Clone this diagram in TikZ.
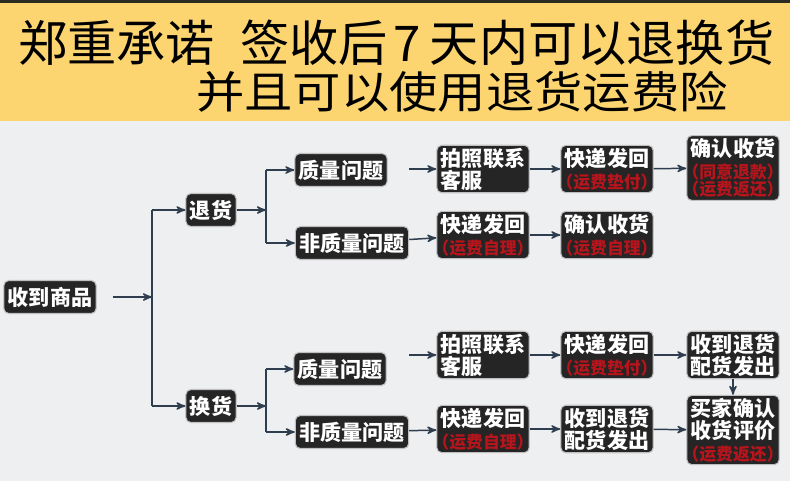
\documentclass[tikz,border=0pt]{standalone}
\usepackage{fontspec}
\usepackage{xcolor}
\usetikzlibrary{arrows}
\newfontfamily\cjk{Noto Sans CJK SC}
\newfontfamily\cjkwide[FakeStretch=1.1]{Noto Sans CJK SC}
\definecolor{pagebg}{HTML}{EEEFF1}
\definecolor{banner}{HTML}{FCD571}
\definecolor{bannertop}{HTML}{2B2B22}
\definecolor{boxfill}{HTML}{252525}
\definecolor{boxrim}{HTML}{BFBFBF}
\definecolor{feered}{HTML}{B8141C}
\definecolor{arrowc}{HTML}{2F3E4E}
\newcommand{\fee}[1]{{\color{feered}\fontsize{9.6}{10}\selectfont\makebox[5em]{#1}}}

\begin{document}
\begin{tikzpicture}[x=0.02cm,y=-0.02cm]

    \tikzset{box/.style = {rounded corners=0.1cm,fill=boxfill,draw=boxrim,line width=0.6pt,
        text=white,font=\cjk\bfseries\fontsize{12}{12.5}\selectfont,align=center,
        inner xsep=0.08cm,inner ysep=1.5pt,minimum height=0.66cm}}
    \tikzset{edge/.style = {draw=arrowc,line width=0.85pt,-stealth'}}
    \tikzset{trunk/.style = {draw=arrowc,line width=0.85pt}}
    \useasboundingbox (0,0) rectangle (790,481);
    %background
    \fill[pagebg] (0,0) rectangle (790,481);
    \fill[banner] (0,3) rectangle (790,121);
    \fill[bannertop] (0,0) rectangle (790,3);
    \node[anchor=west,inner sep=0,font=\cjk\fontsize{28}{29}\selectfont] (title) at (18,43)
        {郑重承诺\hspace{0.5cm}签收后\hspace{0.12cm}7\hspace{0.18cm}天内可以退换货};
    \node[anchor=west,inner sep=0,font=\cjkwide\fontsize{25}{26}\selectfont] (subtitle) at (196,92)
        {并且可以使用退货运费险};
    %nodes
    \node[box] (recv) at (50,297) {收到商品};
    \node[box] (ret) at (211,210) {退货};
    \node[box] (exc) at (211,406) {换货};
    \node[box] (retq) at (341,170) {质量问题};
    \node[box] (retn) at (352,243) {非质量问题};
    \node[box] (excq) at (340,369) {质量问题};
    \node[box] (excn) at (352,432) {非质量问题};
    \node[box,align=left] (retq1) at (483,169) {拍照联系\\客服};
    \node[box] (retq2) at (607,169) {快递发回\\\fee{（运费垫付）}};
    \node[box] (retq3) at (733,168) {确认收货\\\fee{（同意退款）}\\[-2.5pt]\fee{（运费返还）}};
    \node[box] (retn1) at (483,235) {快递发回\\\fee{（运费自理）}};
    \node[box] (retn2) at (607,235) {确认收货\\\fee{（运费自理）}};
    \node[box,align=left] (excq1) at (483,355) {拍照联系\\客服};
    \node[box] (excq2) at (607,355) {快递发回\\\fee{（运费垫付）}};
    \node[box] (excq3) at (733,355) {收到退货\\配货发出};
    \node[box] (excn1) at (483,429) {快递发回\\\fee{（运费自理）}};
    \node[box] (excn2) at (607,429) {收到退货\\配货发出};
    \node[box] (excn3) at (733,430) {买家确认\\收货评价\\\fee{（运费返还）}};
    %edges
    \coordinate (s0) at (152,297);
    \coordinate (s1) at (266,210);
    \coordinate (s2) at (266,406);
    \draw[edge,shorten <=0.32cm] (recv) -- (s0);
    \draw[trunk] (s0 |- ret) -- (s0 |- exc);
    \draw[edge] (s0 |- ret) -- (ret);
    \draw[edge] (s0 |- exc) -- (exc);
    \draw[edge] (ret) -- (s1);
    \draw[trunk] (s1 |- retq) -- (s1 |- retn);
    \draw[edge] (s1 |- retq) -- (retq);
    \draw[edge] (s1 |- retn) -- (retn);
    \draw[edge] (exc) -- (s2);
    \draw[trunk] (s2 |- excq) -- (s2 |- excn);
    \draw[edge] (s2 |- excq) -- (excq);
    \draw[edge] (s2 |- excn) -- (excn);
    \draw[edge] (retn.east |- retq1) -- (retq1);
    \draw[edge] (retq1) -- (retq2);
    \draw[edge] (retq2) -- (retq3);
    \draw[edge] (retn) -- (retn1);
    \draw[edge] (retn1) -- (retn2);
    \draw[edge] (excn.east |- excq1) -- (excq1);
    \draw[edge] (excq1) -- (excq2);
    \draw[edge] (excq2) -- (excq3);
    \draw[edge] (excq3) -- (excn3);
    \draw[edge] (excn) -- (excn1);
    \draw[edge] (excn1) -- (excn2);
    \draw[edge] (excn2) -- (excn3);
\end{tikzpicture}
\end{document}
